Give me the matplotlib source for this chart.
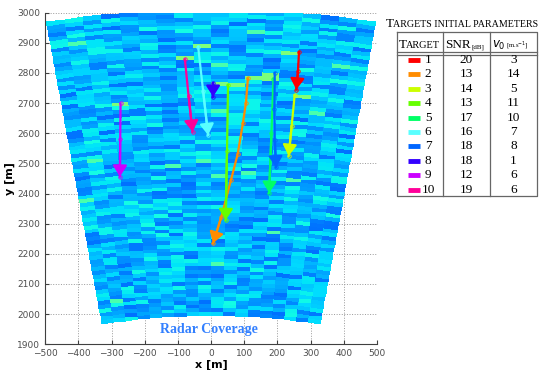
import numpy as np
import matplotlib
matplotlib.use("Agg")
import matplotlib.pyplot as plt

# target tracks (x, y in metres)
track_x = [
    [265, 262, 257],
    [111, 105, 96, 80, 60, 31, 6],
    [252, 243, 234],
    [51, 48, 44],
    [188, 182, 175],
    [-39, -24, -9],
    [192, 191, 192, 196],
    [6, 6],
    [-273, -274, -275],
    [-79, -68, -56],
]
track_y = [
    [2870, 2805, 2745],
    [2782, 2700, 2634, 2530, 2445, 2323, 2235],
    [2727, 2625, 2525],
    [2760, 2540, 2312],
    [2780, 2600, 2402],
    [2887, 2740, 2594],
    [2800, 2680, 2577, 2487],
    [2766, 2721],
    [2699, 2580, 2456],
    [2845, 2725, 2605],
]
target_ids = ["1", "2", "3", "4", "5", "6", "7", "8", "9", "10"]
snr_db = [20, 13, 14, 13, 17, 16, 18, 18, 12, 19]
v0 = [3, 14, 5, 11, 10, 7, 8, 1, 6, 6]
colors = [(1, 0, 0), (1, 0.55, 0), (0.8, 1, 0), (0.4, 1, 0), (0, 1, 0.4),
          (0.35, 1, 1), (0, 0.4, 1), (0.2, 0, 1), (0.8, 0, 1), (1, 0, 0.6)]

# radar coverage (range in m, azimuth in degrees)
r_min, r_max = 1995, 3010
az_half = 9.5
n_range, n_az = 80, 18

fig = plt.figure(figsize=(5.55, 3.7), dpi=100)
ax = fig.add_axes([0.0816, 0.0695, 0.5975, 0.8962])

# clutter map: deterministic integer-hash texture over range/azimuth cells
r_edges = np.linspace(r_min, r_max, n_range + 1)
az_edges = np.linspace(-az_half, az_half, n_az + 1)
cell = np.arange(n_range * n_az, dtype=np.uint64).reshape(n_range, n_az) + np.uint64(12345)
m32 = np.uint64(0xFFFFFFFF)
x = (cell * np.uint64(2654435761)) & m32
x ^= x >> np.uint64(15)
x = (x * np.uint64(2246822519)) & m32
x ^= x >> np.uint64(13)
x = (x * np.uint64(3266489917)) & m32
x ^= x >> np.uint64(16)
v = x.astype(float) / 4294967296.0
clutter = 0.235 + 0.14 * v
clutter[v > 0.985] = 0.44
# target echoes at start positions
for tx, ty in zip(track_x, track_y):
    r0 = np.hypot(tx[0], ty[0])
    a0 = np.degrees(np.arctan2(tx[0], ty[0]))
    ri = np.searchsorted(r_edges, r0) - 1
    ai = np.searchsorted(az_edges, a0) - 1
    clutter[ri, ai] = 0.5
RR, AA = np.meshgrid(r_edges, np.radians(az_edges), indexing="ij")
ax.pcolormesh(RR * np.sin(AA), RR * np.cos(AA), clutter, cmap="jet",
              vmin=0, vmax=1, shading="flat", zorder=1)

for k in range(len(track_x)):
    ax.plot(track_x[k], track_y[k], "-o", color=colors[k], lw=1.6,
            ms=2.5, mfc="none", mew=0.6, zorder=3)
    ax.annotate("", xy=(track_x[k][-1], track_y[k][-1]),
                xytext=(track_x[k][-2], track_y[k][-2]),
                arrowprops=dict(arrowstyle="-|>,head_length=0.55,head_width=0.35",
                                color=colors[k], lw=1.6, shrinkA=0, shrinkB=0,
                                mutation_scale=12), zorder=4)

ax.text(-5, 1948, "Radar Coverage", color=(0.2, 0.5, 1), fontsize=10,
        family="Liberation Serif", weight="bold", ha="center", va="center")

ax.set_xlim(-500, 500)
ax.set_ylim(1900, 3000)
ax.set_xticks(np.arange(-500, 501, 100))
ax.set_yticks(np.arange(1900, 3001, 100))
ax.grid(True, linestyle=":", color="0.6", lw=0.7, zorder=0)
ax.set_axisbelow(True)
for s in ["top", "right"]:
    ax.spines[s].set_visible(False)
for s in ["left", "bottom"]:
    ax.spines[s].set_color("0.25")
ax.tick_params(direction="in", labelsize=6.5, labelcolor="0.3", length=3, color="0.25")
ax.set_xlabel("x [m]", fontsize=8, weight="bold", labelpad=1)
ax.set_ylabel("y [m]", fontsize=8, weight="bold", labelpad=2)

# table of initial parameters, drawn in figure pixel coordinates
tab = fig.add_axes([0, 0, 1, 1])
tab.set_xlim(0, 555)
tab.set_ylim(370, 0)
tab.axis("off")
serif = "Liberation Serif"
lc = "0.4"

tab.text(386, 27, "T", fontsize=9.5, family=serif, va="baseline")
tab.text(393, 27, "ARGETS INITIAL PARAMETERS", fontsize=7.2, family=serif, va="baseline")

left, c1, c2, right = 397, 443, 490, 537
top, bottom = 32, 196
tab.plot([left, right, right, left, left], [top, top, bottom, bottom, top], color=lc, lw=0.9)
for xc in (c1, c2):
    tab.plot([xc, xc], [top, bottom], color=lc, lw=0.9)
tab.plot([left, right], [52, 52], color=lc, lw=0.9)
tab.plot([left, right], [55, 55], color=lc, lw=0.9)

tab.text(399, 48, "T", fontsize=9.5, family=serif, va="baseline")
tab.text(406, 48, "ARGET", fontsize=7.4, family=serif, va="baseline")
tab.text(445, 48, "SNR", fontsize=9.5, family=serif, va="baseline")
tab.text(471, 48, "[dB]", fontsize=5, family=serif, va="baseline")
tab.text(492, 48, "$v_0$", fontsize=8.5, va="baseline")
tab.text(506, 48, "[m.s$^{-1}$]", fontsize=4.8, family=serif, va="baseline")

for k in range(len(target_ids)):
    yc = 60 + 14.4 * k
    tab.plot([408, 420], [yc, yc], color=colors[k], lw=3.5, solid_capstyle="butt")
    tab.text(428, yc, target_ids[k], fontsize=9.5, family=serif, ha="center", va="center")
    tab.text((c1 + c2) / 2, yc, str(snr_db[k]), fontsize=9.5, family=serif, ha="center", va="center")
    tab.text((c2 + right) / 2, yc, str(v0[k]), fontsize=9.5, family=serif, ha="center", va="center")

fig.savefig("out.png", dpi=100)
